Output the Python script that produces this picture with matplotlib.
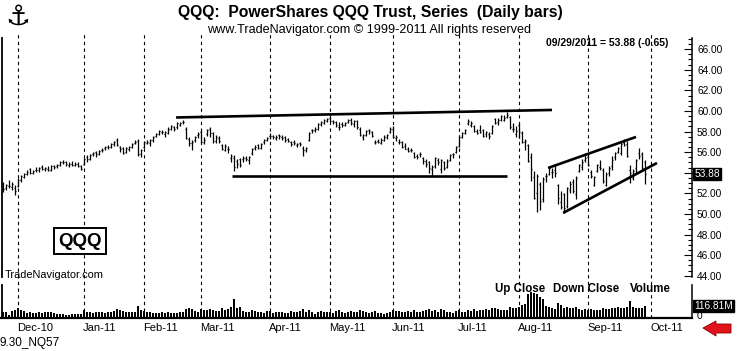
import matplotlib
matplotlib.use("Agg")
import matplotlib.pyplot as plt
import numpy as np
import pandas as pd
from matplotlib.patches import Polygon
from matplotlib.lines import Line2D
from matplotlib.ticker import FixedLocator

plt.rcParams['font.family'] = ['Liberation Sans', 'DejaVu Sans']

# ---------------- data ----------------
holidays = ["2010-11-25", "2010-12-24", "2011-01-17", "2011-02-21",
            "2011-04-22", "2011-05-30", "2011-07-04", "2011-09-05"]
calendar = pd.bdate_range("2010-11-23", "2011-10-31", freq="C", holidays=holidays)

opens = [52.9,52.5,52.7,52.6,52.5,52.7,53.3,53.6,53.9,54.4,54.0,54.3,54.3,54.6,54.4,54.4,54.3,54.7,54.7,54.8,
         55.0,55.0,54.8,54.9,54.8,54.9,54.7,54.9,55.5,55.3,55.8,56.0,55.8,56.2,56.4,56.5,56.5,56.8,57.2,56.5,
         56.4,56.0,56.3,56.5,56.9,57.1,55.8,56.5,56.9,56.9,57.2,57.6,57.8,58.0,57.8,57.9,58.3,58.4,58.4,58.6,
         58.9,58.3,57.3,56.9,57.2,57.7,58.0,57.0,57.8,58.3,57.9,57.1,57.4,56.7,56.2,56.3,55.4,55.4,55.1,55.3,
         55.3,55.4,55.2,55.9,56.4,56.7,56.4,57.0,57.2,57.6,57.6,57.4,57.7,57.5,57.5,57.3,57.0,57.0,56.7,56.9,
         56.4,56.2,57.2,58.2,58.2,58.3,58.7,58.8,59.0,59.3,59.0,58.9,58.4,58.7,58.6,58.9,59.1,58.7,59.0,58.3,
         57.5,57.7,58.2,58.0,57.0,57.1,56.9,57.2,57.5,58.0,58.3,57.4,57.0,57.0,56.6,56.3,56.2,55.9,55.6,55.8,
         55.4,55.1,55.0,54.4,54.7,55.2,54.4,55.0,54.6,55.2,55.8,56.0,56.6,57.5,57.9,58.8,58.6,58.5,58.1,58.2,
         58.2,57.8,57.8,57.9,59.2,58.9,59.1,59.1,59.4,59.4,58.3,57.8,58.6,57.9,57.0,56.7,55.5,53.6,52.0,52.9,
         51.5,53.7,53.9,54.1,54.3,52.8,51.2,51.9,50.8,52.3,53.1,51.9,54.2,54.6,55.2,55.5,54.1,52.8,54.2,54.6,
         54.3,52.8,54.0,54.7,55.5,56.0,55.9,56.9,56.8,54.3,53.5,54.5,55.9,55.8,55.0]
highs = [53.1,52.9,53.3,53.1,52.8,53.5,53.8,54.0,54.3,54.5,54.3,54.6,54.6,54.8,54.6,54.7,54.8,54.8,54.9,55.1,
         55.2,55.1,55.0,55.1,55.0,55.0,54.8,55.4,55.7,55.8,56.0,56.1,56.2,56.4,56.6,56.7,56.9,57.1,57.4,56.6,
         56.5,56.5,56.6,56.9,57.2,57.3,56.3,57.1,57.2,57.3,57.6,57.9,58.2,58.2,58.1,58.4,58.6,58.5,58.9,58.9,
         59.1,58.4,57.5,57.2,57.6,58.0,58.2,57.5,58.3,58.4,58.0,57.7,57.6,56.8,56.8,56.6,55.8,55.7,55.3,55.4,
         55.6,55.6,55.6,56.4,56.7,56.8,56.9,57.3,57.5,57.9,57.7,57.7,57.8,57.7,57.6,57.4,57.1,57.2,56.9,57.0,
         56.6,56.5,58.0,58.3,58.4,58.8,59.0,59.2,59.3,59.4,59.1,59.0,58.9,58.9,58.9,59.2,59.3,59.1,59.1,58.4,
         57.8,58.2,58.3,58.1,57.2,57.3,57.4,57.7,57.8,58.4,58.5,57.7,57.3,57.1,56.9,56.5,56.4,56.0,55.8,56.0,
         55.5,55.3,55.1,54.8,55.5,55.4,55.3,55.1,55.3,55.8,55.9,56.6,57.6,58.0,58.3,59.2,59.0,58.6,58.3,58.6,
         58.3,58.1,58.0,58.6,59.3,59.3,59.6,59.6,59.9,59.5,58.8,58.5,58.8,58.1,57.3,56.8,55.9,54.2,53.9,53.1,
         53.6,54.0,54.6,54.5,54.8,52.9,52.2,52.0,52.6,53.2,53.4,53.7,54.9,55.3,55.9,55.8,54.3,53.7,54.9,55.2,
         54.5,54.1,54.7,55.6,56.0,56.5,57.0,57.3,57.1,54.8,54.4,55.3,56.4,56.0,55.2]
lows = [52.1,52.3,52.5,52.3,51.8,52.6,53.1,53.5,53.8,53.9,53.9,54.1,54.1,54.3,54.2,54.2,54.2,54.4,54.5,54.7,
        54.9,54.7,54.6,54.7,54.7,54.6,54.3,54.8,55.0,55.2,55.6,55.5,55.7,56.0,56.2,56.3,56.4,56.6,56.6,56.0,
        55.8,55.9,56.1,56.4,56.8,55.6,55.5,56.4,56.8,56.6,57.0,57.5,57.7,57.8,57.5,57.8,58.2,58.1,58.3,58.5,
        58.7,57.3,56.6,56.2,57.0,57.4,56.9,56.8,57.6,57.5,56.9,56.9,56.9,56.2,56.1,55.9,55.0,54.2,54.5,54.6,
        55.0,55.1,54.9,55.7,56.2,56.3,56.3,56.8,57.1,57.3,57.3,57.2,57.3,57.2,57.0,57.0,56.6,56.7,56.5,56.6,
        55.6,56.0,57.1,57.9,58.0,58.2,58.5,58.7,58.9,58.9,58.7,58.4,58.2,58.4,58.5,58.8,58.6,58.4,58.3,57.6,
        57.2,57.6,57.8,57.5,56.8,56.9,56.8,57.1,57.3,57.9,57.4,57.1,56.8,56.4,56.3,56.0,56.0,55.4,55.3,55.5,
        54.9,54.6,54.0,53.8,54.5,54.8,54.0,54.3,54.5,55.1,55.4,55.9,56.5,57.4,57.8,58.6,58.4,58.0,57.8,57.9,
        57.5,57.5,57.3,57.8,58.7,58.6,59.0,59.0,59.3,58.3,58.0,57.5,57.4,56.9,56.2,55.0,53.2,51.5,50.2,50.4,
        51.2,53.1,53.8,53.5,53.6,51.0,50.5,50.1,50.6,52.0,52.0,51.5,54.1,54.3,55.0,54.7,53.5,52.7,54.1,54.3,
        53.0,52.7,53.7,54.3,55.2,55.9,55.7,56.6,55.5,53.0,53.3,53.9,55.3,54.4,52.9]
closes = [52.4,52.8,52.7,52.9,52.2,53.3,53.7,53.9,54.1,54.0,54.2,54.3,54.5,54.4,54.5,54.3,54.7,54.6,54.8,55.0,
          55.0,54.9,54.9,54.8,54.9,54.7,54.4,55.3,55.3,55.7,55.9,55.8,56.1,56.2,56.5,56.5,56.8,57.0,56.7,56.3,
          55.9,56.4,56.5,56.8,57.0,55.8,56.2,57.0,57.0,57.2,57.5,57.8,58.1,58.0,58.0,58.3,58.5,58.3,58.8,58.8,
          58.9,57.4,56.9,57.0,57.5,57.8,57.0,57.2,58.2,57.9,57.1,57.5,57.1,56.3,56.6,56.3,55.6,54.6,54.9,54.8,
          55.4,55.3,55.5,56.3,56.5,56.4,56.8,57.2,57.4,57.6,57.5,57.5,57.6,57.4,57.2,57.1,56.8,56.9,56.8,56.8,
          56.2,56.4,57.9,58.2,58.3,58.7,58.9,59.1,59.2,59.0,58.9,58.6,58.4,58.6,58.8,59.1,58.8,59.0,58.4,57.7,
          57.7,58.1,58.1,57.6,57.0,57.0,57.2,57.5,57.7,58.3,57.5,57.5,57.0,56.5,56.3,56.1,56.2,55.5,55.5,55.8,
          55.1,54.9,54.5,54.6,55.4,55.0,55.2,54.5,55.1,55.7,55.8,56.5,57.5,57.9,58.2,59.0,58.8,58.1,57.9,58.0,
          57.6,58.0,57.6,58.5,58.8,59.1,59.5,59.3,59.6,58.4,58.3,58.1,58.0,57.0,57.1,55.1,54.4,51.6,53.7,51.3,
          53.4,53.7,54.5,54.1,54.0,51.6,50.7,50.6,52.5,52.9,52.2,53.5,54.8,55.0,55.4,54.8,53.7,53.6,54.8,54.5,
          53.2,53.9,54.5,55.2,55.9,56.4,56.8,56.7,55.6,54.0,54.2,55.2,55.6,54.5,53.88]
volumes = [60,55,30,65,80,
           95,75,65,50,55,45,50,55,45,55,60,55,45,40,35,40,30,30,35,40,35,40,
           80,60,55,50,55,55,60,50,55,60,65,85,80,70,55,60,55,60,120,75,
           65,55,55,50,45,50,55,50,55,45,50,45,55,55,90,95,90,70,60,
           90,80,75,85,75,70,65,95,80,85,110,180,100,105,70,55,60,80,65,60,55,50,65,
           70,50,55,60,55,50,50,70,60,55,65,85,60,80,55,40,55,65,60,55,
           60,50,70,75,60,50,55,70,60,60,75,65,55,50,55,65,45,50,40,45,60,
           80,65,70,60,55,70,60,75,60,60,70,80,85,70,75,60,85,75,60,55,50,65,
           80,55,60,75,70,85,70,75,80,90,75,100,95,90,80,75,80,110,100,95,
           110,130,140,230,250,240,230,200,180,120,110,100,90,150,130,100,110,95,100,110,85,80,90,
           75,85,80,80,75,100,90,85,95,100,110,100,95,110,170,105,95,100,95,116.81]  # millions

price_ticks = [44, 46, 48, 50, 52, 54, 56, 58, 60, 62, 64, 66]
hidden_tick_labels = [54]  # covered by the last-close box
last_close = 53.88
last_volume_label = "116.81M"
header_label = "09/29/2011 = 53.88 (-0.65)"

# trend lines: (bar index, price) endpoints
resistance = [(57.7, 59.37), (183.0, 60.10)]
support = [(76.3, 53.69), (168.0, 53.69)]
wedge_top = [(181.7, 54.47), (211.0, 57.48)]
wedge_bottom = [(186.7, 50.10), (218.0, 54.95)]

# ---------------- figure ----------------
W, H = 740, 351
fig = plt.figure(figsize=(W / 100, H / 100), dpi=100)
fig.patch.set_facecolor("white")


def fx(px):
    return px / W


def fy(py):
    return 1 - py / H


n = len(closes)
idx = np.arange(n)
xmin, xmax = -0.33, 229.67

ax = fig.add_axes([fx(2), fy(318), fx(692) - fx(2), fy(32) - fy(318)])
ax.set_xlim(xmin, xmax)
ax.set_ylim(39.9, 67.67)
ax.patch.set_alpha(0)
for s in ["top", "bottom"]:
    ax.spines[s].set_visible(False)
ax.spines["right"].set_bounds(43.9, 67.1)
ax.spines["left"].set_bounds(43.9, 67.1)
ax.spines["right"].set_linewidth(1.1)
ax.spines["left"].set_linewidth(1.3)
ax.set_xticks([])
ax.yaxis.tick_right()
ax.yaxis.set_major_locator(FixedLocator(price_ticks))
ax.set_yticklabels(["" if t in hidden_tick_labels else f"{t:.2f}" for t in price_ticks])
minor = [t / 2 for t in range(88, 135) if (t / 2) not in price_ticks]
ax.yaxis.set_minor_locator(FixedLocator(minor))
ax.tick_params(axis="y", which="major", direction="in", length=6, width=0.8,
               pad=3.6, labelsize=7.3, right=True, left=False)
ax.tick_params(axis="y", which="minor", direction="in", length=3, width=0.8,
               right=True, left=False)

# month dividers
cal_months = calendar.to_period("M")
month_starts = [i for i in range(1, len(calendar)) if cal_months[i] != cal_months[i - 1]]
trans_lbl = matplotlib.transforms.blended_transform_factory(ax.transData, fig.transFigure)
for i in month_starts:
    ax.axvline(i, color="black", lw=0.8, ls=(0, (3, 3)), zorder=1)
    ax.text(i - 0.3, fy(328), calendar[i].strftime("%b-%y"), transform=trans_lbl,
            ha="left", va="center", fontsize=8)

# OHLC bars
ax.vlines(idx, lows, highs, color="black", lw=0.9, zorder=3)
ax.hlines(opens, idx - 0.45, idx, color="black", lw=0.9, zorder=3)
ax.hlines(closes, idx, idx + 0.45, color="black", lw=0.9, zorder=3)

# trend lines
for seg in (resistance, support, wedge_top, wedge_bottom):
    ax.plot([seg[0][0], seg[1][0]], [seg[0][1], seg[1][1]], color="black",
            lw=1.9, solid_capstyle="butt", zorder=4)

# volume panel
vax = fig.add_axes([fx(2), fy(318), fx(692) - fx(2), fy(283) - fy(318)])
vax.set_xlim(xmin, xmax)
vax.set_ylim(0, 340)
vax.patch.set_alpha(0)
vax.bar(idx, volumes, width=0.65, color="black", zorder=3)
for s in ["top", "bottom"]:
    vax.spines[s].set_visible(False)
vax.spines["right"].set_bounds(0, 325)
vax.spines["left"].set_bounds(0, 325)
vax.spines["right"].set_linewidth(1.1)
vax.spines["left"].set_linewidth(1.3)
vax.set_xticks([])
vax.set_yticks([])

# bottom axis line
fig.add_artist(Line2D([fx(0), fx(692)], [fy(318), fy(318)], color="black", lw=1.6))

# texts
fig.text(fx(370), fy(12), "QQQ:  PowerShares QQQ Trust, Series  (Daily bars)",
         ha="center", va="center", fontsize=11.3, fontweight="bold")
fig.text(fx(369), fy(30), "www.TradeNavigator.com \u00a9 1999-2011 All rights reserved",
         ha="center", va="center", fontsize=9.1)
fig.text(fx(607), fy(43), header_label, ha="center", va="center",
         fontsize=7.5, fontweight="bold")
fig.text(fx(18), fy(17), "\u2693", ha="center", va="center", fontsize=20,
         family="DejaVu Sans", fontweight="bold")
fig.text(fx(80), fy(241), "QQQ", ha="center", va="center", fontsize=13.5,
         fontweight="bold",
         bbox=dict(boxstyle="square,pad=0.22", fc="white", ec="black", lw=1.4))
fig.text(fx(5), fy(275), "TradeNavigator.com", ha="left", va="center", fontsize=7.9)
fig.text(fx(495), fy(289), "Up Close", ha="left", va="center", fontsize=8.3, fontweight="bold")
fig.text(fx(553), fy(289), "Down Close", ha="left", va="center", fontsize=8.3, fontweight="bold")
fig.text(fx(630), fy(289), "Volume", ha="left", va="center", fontsize=8.3, fontweight="bold")
fig.text(fx(0), fy(343), "9.30_NQ57", ha="left", va="center", fontsize=8.5)

# current value boxes on the right axis
ax.text(1.0035, last_close, f"{last_close:.2f}", transform=ax.get_yaxis_transform(),
        ha="left", va="center", fontsize=7.3, color="white", zorder=6,
        bbox=dict(boxstyle="square,pad=0.12", fc="black", ec="black"))
fig.text(fx(694), fy(306), last_volume_label, ha="left", va="center", fontsize=7.3,
         color="white", bbox=dict(boxstyle="square,pad=0.12", fc="black", ec="black"))
fig.text(fx(697), fy(316), "0", ha="left", va="center", fontsize=7.3)

# red arrow
arrow_pts = [(703, 328), (716, 321), (716, 324), (731, 324), (731, 333),
             (716, 333), (716, 336)]
fig.add_artist(Polygon([(fx(x), fy(y)) for x, y in arrow_pts], closed=True,
                       transform=fig.transFigure, fc="#e3131b", ec="#8a0000", lw=0.6))

fig.savefig("out.png", dpi=100, facecolor="white")
